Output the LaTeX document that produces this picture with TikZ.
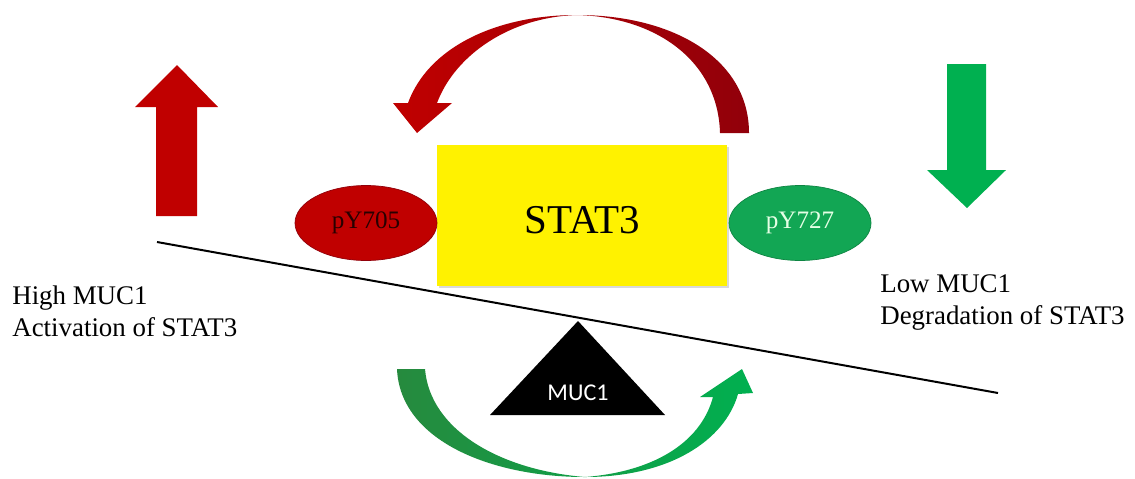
\documentclass[tikz,border=0pt]{standalone}
\usepackage{fontspec}
\setmainfont{Liberation Serif}
\newfontfamily\calfont{Carlito}
\usetikzlibrary{shadows,shapes.geometric}
\definecolor{stred}{RGB}{192,0,0}
\definecolor{stdark}{RGB}{145,0,10}
\definecolor{stgreen}{RGB}{0,176,80}
\definecolor{stgreendk}{RGB}{38,138,62}
\definecolor{ovgreen}{RGB}{18,166,84}
\begin{document}
\begin{tikzpicture}[x=0.2mm,y=-0.2mm,
  lbl/.style={font=\fontsize{15.3}{17.9}\selectfont,align=left,inner sep=0pt},
  phos/.style={ellipse,inner sep=0pt,minimum width=28.4mm,minimum height=15mm,font=\fontsize{14.3}{16}\selectfont},
  ybox/.style={fill=yellow,minimum width=58mm,minimum height=28.2mm,inner sep=0pt,text height=21pt,text depth=0pt,font=\fontsize{23.3}{26}\selectfont,drop shadow={shadow xshift=0.4mm,shadow yshift=-0.4mm,opacity=0.3}}]
\useasboundingbox(0,0)rectangle(1135,478);
\fill[stred](156,216)--(156,107)--(135,107)--(177,65)--(218,107)--(197,107)--(197,216)--cycle;
\fill[stgreen](947,64)--(986,64)--(986,170)--(1006,170)--(967,208)--(927,170)--(947,170)--cycle;
\path[left color=stred,right color=stdark](749,133)..controls(749,60)and(675,15)..(577,15)..controls(495,15)and(428,48)..(408,103)--(393,103)--(417,133)--(452,103)--(437,103)..controls(455,55)and(510,17)..(577,15)..controls(655,17)and(718,60)..(720,133)--cycle;
\path[left color=stgreendk,right color=stgreen](397,369)..controls(400,440)and(490,477)..(585,477)..controls(670,477)and(725,440)..(738,394)--(753,393)--(742,369)--(700,397)--(713,397)..controls(700,445)and(650,472)..(585,477)..controls(500,470)and(430,430)..(425,369)--cycle;
\node[ybox](stat)at(582,215.5){STAT3};
\node[phos,fill=stred,draw=stdark,text={rgb,255:red,40;green,0;blue,0}](p705)at(366,223){pY705};
\node[phos,fill=ovgreen,draw=ovgreen!80!black,text=white!90!green](p727)at(800,223){pY727};
\coordinate(bl)at(157,242);
\coordinate(br)at(998,393);
\draw[line width=0.4mm](bl)--(br);
\fill(490,415)--(578,321)--(665,415)--cycle;
\node[text=white,font=\calfont\fontsize{13.7}{15}\selectfont,anchor=base](muc)at(578,400){MUC1};
\node[lbl,anchor=base west](high)at(12,336){High MUC1\\Activation of STAT3};
\node[lbl,anchor=base west](low)at(880,324){Low MUC1\\Degradation of STAT3};
\end{tikzpicture}
\end{document}
